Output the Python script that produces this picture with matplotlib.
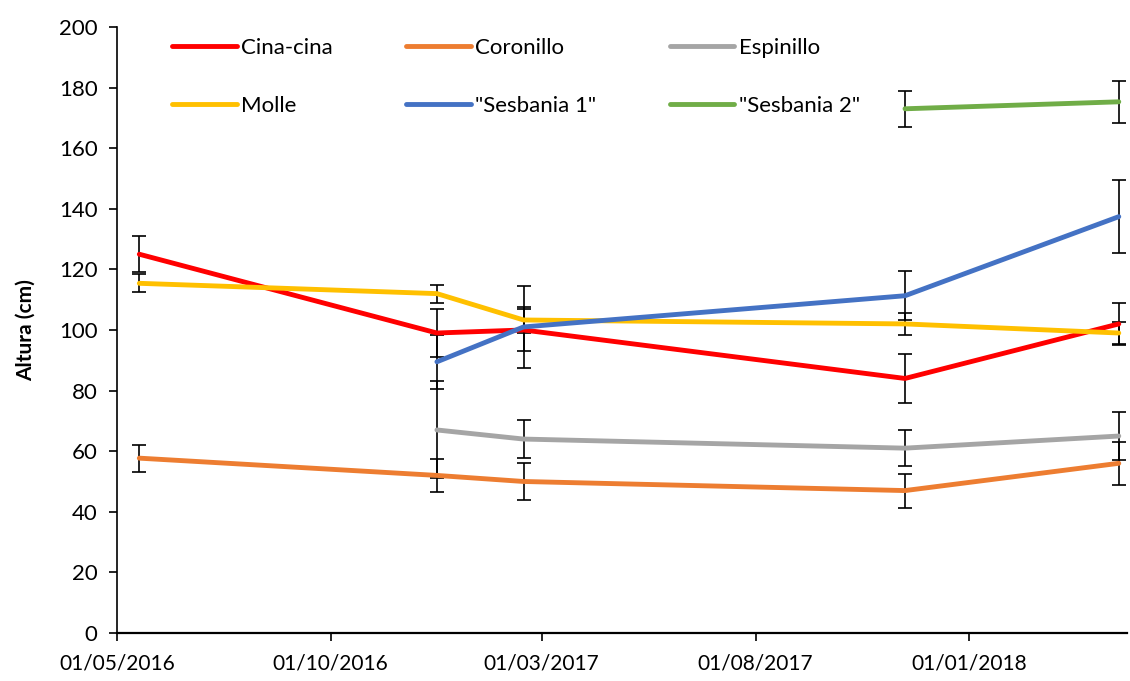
import pandas as pd
import numpy as np
import matplotlib
matplotlib.use("Agg")
import matplotlib.pyplot as plt
import matplotlib.dates as mdates

plt.rcParams['font.family'] = ['Lato', 'DejaVu Sans']

# Sampling dates
dates = pd.to_datetime(['2016-05-17', '2016-12-16', '2017-02-16', '2017-11-16', '2018-04-18'])

cina_cina = [125, 99, 100, 84, 102]
cina_cina_err = [6, 8, 7, 8, 7]
coronillo = [57.7, 52, 50, 47, 56]
coronillo_err = [4.5, 5.5, 6.2, 5.6, 7]
espinillo = [np.nan, 67, 64, 61, 65]
espinillo_err = [np.nan, 16, 6.4, 6, 8]
molle = [115.4, 112, 103.3, 102, 99]
molle_err = [3, 3, 4.4, 3.7, 3.7]
sesbania1 = [np.nan, 89.5, 101, 111.3, 137.4]
sesbania1_err = [np.nan, 9, 13.5, 8, 12]
sesbania2 = [np.nan, np.nan, np.nan, 173, 175.3]
sesbania2_err = [np.nan, np.nan, np.nan, 6, 7]

series = [
    ('Cina-cina', cina_cina, cina_cina_err, '#FF0000'),
    ('Coronillo', coronillo, coronillo_err, '#ED7D31'),
    ('Espinillo', espinillo, espinillo_err, '#A5A5A5'),
    ('Molle', molle, molle_err, '#FFC000'),
    ('"Sesbania 1"', sesbania1, sesbania1_err, '#4472C4'),
    ('"Sesbania 2"', sesbania2, sesbania2_err, '#70AD47'),
]

x_ticks = pd.to_datetime(['2016-05-01', '2016-10-01', '2017-03-01', '2017-08-01', '2018-01-01'])

fig = plt.figure(figsize=(11.3, 6.81), dpi=100)
ax = fig.add_axes([0.1035, 0.0705, 0.894, 0.8899])

handles = {}
for name, vals, err, color in series:
    v = np.array(vals, dtype=float)
    e = np.array(err, dtype=float)
    ok = ~np.isnan(v)
    ax.errorbar(dates[ok], v[ok], yerr=e[ok], fmt='none', ecolor='black',
                elinewidth=1.2, capsize=4.7, capthick=1.2, zorder=2)
    line, = ax.plot(dates[ok], v[ok], color=color, linewidth=3.5, label=name,
                    solid_capstyle='round', zorder=3)
    handles[name] = line

ax.set_ylim(0, 200)
ax.set_yticks(np.arange(0, 201, 20))
ax.set_xlim(pd.Timestamp('2016-05-01'), pd.Timestamp('2018-04-24'))
ax.set_xticks(x_ticks)
ax.xaxis.set_major_formatter(mdates.DateFormatter('%d/%m/%Y'))

for s in ['top', 'right']:
    ax.spines[s].set_visible(False)
ax.spines['left'].set_linewidth(1.2)
ax.spines['bottom'].set_linewidth(1.6)
ax.tick_params(axis='both', colors='black', length=6, width=1.2)
ax.tick_params(axis='y', labelsize=16, pad=8)
ax.tick_params(axis='x', labelsize=15, pad=9)

ax.set_ylabel('Altura (cm)', fontsize=15, fontweight='bold')
ax.yaxis.set_label_coords(-0.08, 0.5)

# legend is filled column by column, so reorder to get the rows right
order = ['Cina-cina', 'Molle', 'Coronillo', '"Sesbania 1"', 'Espinillo', '"Sesbania 2"']
ax.legend([handles[k] for k in order], order, loc='upper left',
          bbox_to_anchor=(0.035, 1.015), ncol=3, frameon=False, fontsize=16,
          handlelength=2.9, handletextpad=0.2, columnspacing=3.3, labelspacing=1.7)

plt.savefig('out.png', dpi=100)
